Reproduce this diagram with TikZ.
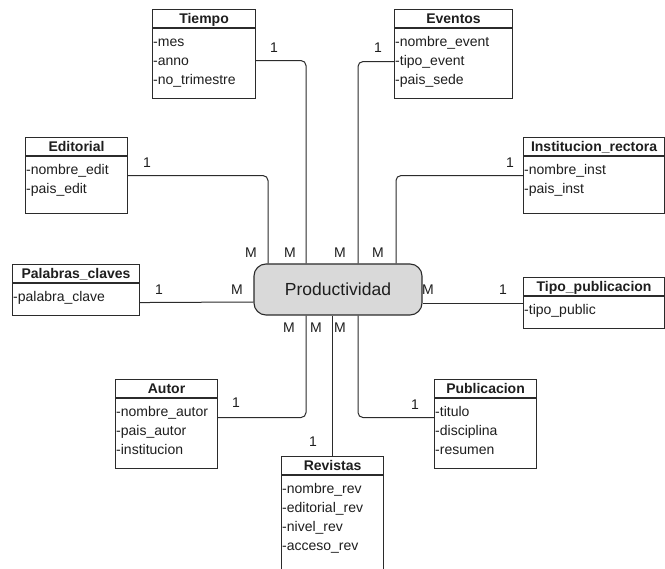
\documentclass[tikz,border=0pt]{standalone}
\usepackage{fontspec}
\setmainfont{Liberation Sans}
\usetikzlibrary{calc}
\definecolor{ink}{HTML}{1E1E1E}
\definecolor{edgecol}{HTML}{2B2B2B}
\definecolor{hubfill}{HTML}{D9D9D9}

\tikzset{
  cls/.style={draw=edgecol, line width=1.1pt, fill=white, inner sep=0pt, rectangle},
  divider/.style={draw=edgecol, line width=1.1pt},
  hdr/.style={font=\fontsize{14}{16}\selectfont\bfseries, text=ink, inner sep=0pt, anchor=base},
  attr/.style={font=\fontsize{14}{16}\selectfont, text=ink, inner sep=0pt, anchor=base west},
  conn/.style={draw=edgecol, line width=1pt, rounded corners=5pt},
  mult/.style={font=\fontsize{14}{16}\selectfont, text=ink, inner sep=0pt},
  hub/.style={draw=edgecol, line width=1.1pt, fill=hubfill, rounded corners=12pt,
    minimum width=168pt, minimum height=51pt, inner sep=0pt,
    font=\fontsize{17.5}{20}\selectfont, text=ink},
}

% class box: name, left, top, width, height, title, attribute list
\newcommand{\classbox}[7]{%
  \node[cls, minimum width=#4pt, minimum height=#5pt, anchor=north west] (#1) at (#2,#3) {};
  \draw[divider] ([yshift=-19pt]#1.north west) -- ([yshift=-19pt]#1.north east);
  \node[hdr] (#1-title) at ([yshift=-14.5pt]#1.north) {#6};
  \foreach \a [count=\i] in {#7} {
    \node[attr] (#1-\i) at ([xshift=1pt, yshift={-18.5pt-19pt*\i}]#1.north west) {\a};
  }%
}

\begin{document}
\begin{tikzpicture}[x=1pt,y=-1pt]
  \fill[white] (0,0) rectangle (665,569);
  \clip (0,0) rectangle (665,569);

  % central entity
  \node[hub] (prod) at (338,289.5) {Productividad};

  % dimension classes
  \classbox{tiempo}{152}{9}{103}{89}{Tiempo}{-mes,-anno,-no\_trimestre}
  \classbox{eventos}{394}{9}{118}{89}{Eventos}{-nombre\_event,-tipo\_event,-pais\_sede}
  \classbox{editorial}{25}{137}{102}{76}{Editorial}{-nombre\_edit,-pais\_edit}
  \classbox{inst}{523}{137}{141}{76}{Institucion\_rectora}{-nombre\_inst,-pais\_inst}
  \classbox{palabras}{12}{264}{127}{51}{Palabras\_claves}{-palabra\_clave}
  \classbox{tipo}{523}{277}{141}{51}{Tipo\_publicacion}{-tipo\_public}
  \classbox{autor}{115}{379}{102}{89}{Autor}{-nombre\_autor,-pais\_autor,-institucion}
  \classbox{publ}{434}{379}{102}{89}{Publicacion}{-titulo,-disciplina,-resumen}
  \classbox{revistas}{281}{456}{102}{125}{Revistas}{-nombre\_rev,-editorial\_rev,-nivel\_rev,-acceso\_rev}

  % connectors
  \draw[conn] ([yshift=-6.5pt]tiempo.east) -| ([xshift=-32pt]prod.north);
  \draw[conn] ([yshift=-7.5pt]eventos.west) -| ([xshift=20pt]prod.north);
  \draw[conn] (editorial.east) -| ([xshift=-70pt]prod.north);
  \draw[conn] (inst.west) -| ([xshift=58pt]prod.north);
  \draw[conn] ([yshift=-12.5pt]palabras.east) -- ([yshift=-12.5pt]prod.west);
  \draw[conn] (tipo.west) -- (prod.east |- tipo.west);
  \draw[conn] ([yshift=6.5pt]autor.east) -| ([xshift=-32pt]prod.south);
  \draw[conn] (revistas.north) -- (revistas.north |- prod.south);
  \draw[conn] ([yshift=6.5pt]publ.west) -| ([xshift=20pt]prod.south);

  % multiplicities
  \node[mult] (one-tiempo) at (274,48) {1};
  \node[mult] (one-eventos) at (378,48) {1};
  \node[mult] (one-editorial) at (147,163) {1};
  \node[mult] (one-inst) at (510,163) {1};
  \node[mult] (one-palabras) at (159,290) {1};
  \node[mult] (one-tipo) at (503,290) {1};
  \node[mult] (one-autor) at (236,403) {1};
  \node[mult] (one-revistas) at (313,442) {1};
  \node[mult] (one-publ) at (415,405) {1};

  \node[mult] (m-editorial) at (251,253) {M};
  \node[mult] (m-tiempo) at (290,253) {M};
  \node[mult] (m-eventos) at (340,253) {M};
  \node[mult] (m-inst) at (378,253) {M};
  \node[mult] (m-palabras) at (237,290) {M};
  \node[mult] (m-tipo) at (428,290) {M};
  \node[mult] (m-autor) at (289,328) {M};
  \node[mult] (m-revistas) at (316,328) {M};
  \node[mult] (m-publ) at (340,328) {M};
\end{tikzpicture}
\end{document}
